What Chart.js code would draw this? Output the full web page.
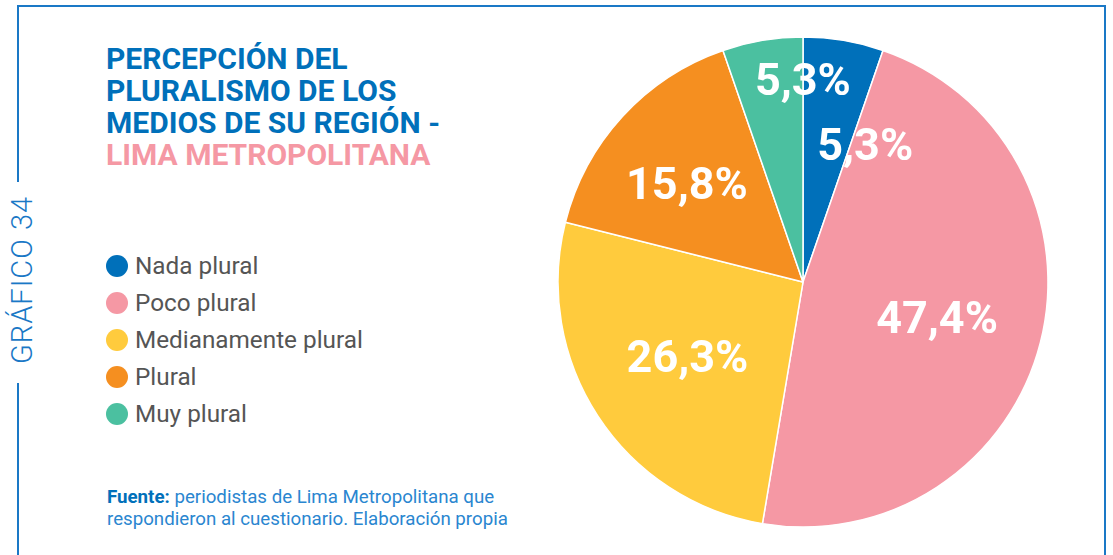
<!DOCTYPE html>
<html lang="es">
<head>
<meta charset="utf-8">
<script src="https://cdn.jsdelivr.net/npm/chart.js@4.4.1/dist/chart.umd.min.js"></script>
<style>
  html, body { margin: 0; padding: 0; background: #fff; }
  body { width: 1113px; height: 555px; position: relative; overflow: hidden; font-family: Roboto, "Noto Sans", sans-serif; }
  .line { position: absolute; background: #1a78c6; }
  #side { position: absolute; left: 22px; top: 280px; transform: translate(-50%, -50%) rotate(-90deg);
          font-size: 29px; font-weight: 300; color: #1a78c6; letter-spacing: 1px; white-space: nowrap; }
  #title { position: absolute; left: 106px; top: 43px; font-size: 30px; font-weight: 700; line-height: 32px; color: #0070ba; }
  #title .sub { color: #f598a4; }
  #legend { position: absolute; left: 106px; top: 247px; }
  .item { display: flex; align-items: center; height: 37px; font-size: 24.3px; color: #555; }
  .dot { width: 22px; height: 22px; border-radius: 50%; margin-right: 7px; }
  #source { position: absolute; left: 107px; top: 486px; font-size: 18.7px; line-height: 22px; color: #2a86d0; }
  #source b { color: #0070ba; }
  #pie { position: absolute; left: 553px; top: 32px; width: 500px; height: 500px; }
</style>
</head>
<body>
<div class="line" style="left:18px; top:5px; width:1088px; height:2px;"></div>
<div class="line" style="left:17px; top:5px; width:2px; height:177px;"></div>
<div class="line" style="left:17px; top:383px; width:2px; height:172px;"></div>
<div class="line" style="left:1104px; top:5px; width:2px; height:550px;"></div>
<div id="side">GRÁFICO 34</div>

<div id="title">PERCEPCIÓN DEL<br>PLURALISMO DE LOS<br>MEDIOS DE SU REGIÓN -<br><span class="sub">LIMA METROPOLITANA</span></div>
<div id="legend"></div>
<div id="source"><b>Fuente:</b> periodistas de Lima Metropolitana que<br>respondieron al cuestionario. Elaboración propia</div>

<div id="pie"><canvas id="c" width="500" height="500"></canvas></div>

<script>
// Response categories and their shares (%)
const categories = ['Nada plural', 'Poco plural', 'Medianamente plural', 'Plural', 'Muy plural'];
const shares = [5.3, 47.4, 26.3, 15.8, 5.3];
const sliceColors = ['#0070ba', '#f598a4', '#ffcb3d', '#f58f20', '#4bc0a0'];

// Label placement inside each slice: angle shift (deg) and radius fraction
const labelShift = [15.5, 2, -1, -3.5, 9.5];
const labelRadius = [0.60, 0.57, 0.57, 0.61, 0.81];

// HTML legend
const legend = document.getElementById('legend');
categories.forEach((name, i) => {
  const row = document.createElement('div');
  row.className = 'item';
  const dot = document.createElement('span');
  dot.className = 'dot';
  dot.style.background = sliceColors[i];
  row.appendChild(dot);
  row.appendChild(document.createTextNode(name));
  legend.appendChild(row);
});

// Percentage labels, centred on their glyph box inside each slice
const sliceLabels = {
  id: 'sliceLabels',
  afterDatasetsDraw(chart) {
    const ctx = chart.ctx;
    const meta = chart.getDatasetMeta(0);
    ctx.save();
    ctx.fillStyle = '#ffffff';
    ctx.font = '700 45px Roboto';
    ctx.textAlign = 'center';
    ctx.textBaseline = 'alphabetic';
    meta.data.forEach((arc, i) => {
      const p = arc.getProps(['x', 'y', 'startAngle', 'endAngle', 'outerRadius'], true);
      const a = (p.startAngle + p.endAngle) / 2 + labelShift[i] * Math.PI / 180;
      const r = p.outerRadius * labelRadius[i];
      const text = shares[i].toFixed(1).replace('.', ',') + '%';
      const m = ctx.measureText(text);
      const dy = (m.actualBoundingBoxAscent - m.actualBoundingBoxDescent) / 2;
      ctx.fillText(text, p.x + Math.cos(a) * r, p.y + Math.sin(a) * r + dy);
    });
    ctx.restore();
  }
};

new Chart(document.getElementById('c'), {
  type: 'pie',
  data: {
    labels: categories,
    datasets: [{
      data: shares,
      backgroundColor: sliceColors,
      borderColor: '#ffffff',
      borderWidth: 1.5,
      radius: 245
    }]
  },
  options: {
    responsive: false,
    animation: false,
    layout: { padding: 0 },
    plugins: { legend: { display: false }, tooltip: { enabled: false } }
  },
  plugins: [sliceLabels]
});
</script>
</body>
</html>
